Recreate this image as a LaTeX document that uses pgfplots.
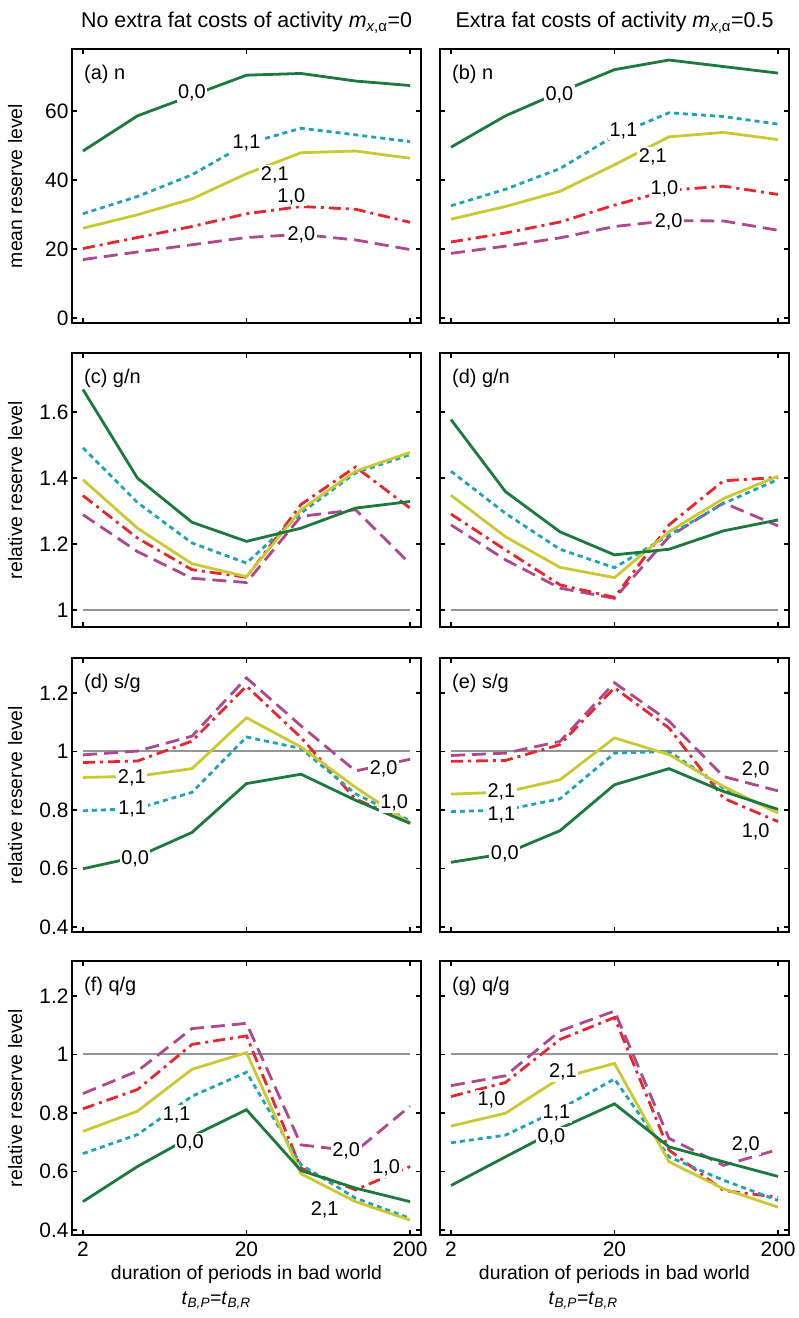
\documentclass[border=0pt]{standalone}
\usepackage{fontspec}
\setmainfont{Liberation Sans}
\usepackage{pgfplots}
\usepackage{pgfplotstable}
\pgfplotsset{compat=1.18}

\definecolor{cG}{RGB}{27,122,60}
\definecolor{cC}{RGB}{31,163,181}
\definecolor{cY}{RGB}{204,200,50}
\definecolor{cR}{RGB}{232,38,46}
\definecolor{cP}{RGB}{176,72,142}
\definecolor{cGray}{RGB}{150,150,150}

\pgfplotstableread{
x g c y r p
2      48.4 30.2 26.0 20.1 16.9
4.309  58.6 35.2 29.9 23.3 19.1
9.283  64.5 41.5 34.5 26.5 21.2
20     70.4 50.5 41.8 30.2 23.3
43.09  70.9 55.0 47.9 32.3 24.2
92.83  68.7 53.1 48.4 31.5 22.6
200    67.4 51.1 46.3 27.7 19.8
}\tabA
\pgfplotstableread{
x g c y r p
2      49.5 32.5 28.6 22.0 18.7
4.309  58.6 37.3 32.3 24.6 20.8
9.283  65.5 43.3 36.7 27.8 23.2
20     72.0 52.8 44.4 32.7 26.5
43.09  74.8 59.5 52.5 37.0 28.2
92.83  72.9 58.4 53.8 38.2 28.1
200    71.0 56.2 51.7 35.8 25.4
}\tabB
\pgfplotstableread{
x g c y r p
2      1.669 1.492 1.395 1.347 1.289
4.309  1.400 1.326 1.248 1.218 1.177
9.283  1.266 1.203 1.140 1.122 1.096
20     1.208 1.142 1.101 1.099 1.083
43.09  1.248 1.294 1.304 1.320 1.284
92.83  1.309 1.416 1.421 1.434 1.304
200    1.329 1.471 1.478 1.309 1.140
}\tabC
\pgfplotstableread{
x g c y r p
2      1.578 1.421 1.348 1.291 1.258
4.309  1.359 1.293 1.222 1.182 1.152
9.283  1.237 1.184 1.129 1.076 1.066
20     1.167 1.128 1.098 1.038 1.035
43.09  1.184 1.227 1.237 1.258 1.222
92.83  1.240 1.323 1.338 1.392 1.325
200    1.273 1.396 1.406 1.402 1.255
}\tabD
\pgfplotstableread{
x g c y r p
2      0.599 0.797 0.911 0.962 0.988
4.309  0.640 0.805 0.915 0.967 1.001
9.283  0.723 0.860 0.941 1.035 1.052
20     0.890 1.049 1.115 1.223 1.251
43.09  0.922 1.010 1.015 1.047 1.087
92.83  0.833 0.855 0.877 0.837 0.933
200    0.754 0.763 0.754 0.757 0.973
}\tabE
\pgfplotstableread{
x g c y r p
2      0.621 0.794 0.854 0.966 0.986
4.309  0.651 0.800 0.861 0.969 0.994
9.283  0.729 0.838 0.903 1.023 1.034
20     0.886 0.994 1.046 1.217 1.234
43.09  0.941 1.000 0.989 1.080 1.103
92.83  0.863 0.874 0.880 0.840 0.914
200    0.802 0.794 0.789 0.760 0.865
}\tabF
\pgfplotstableread{
x g c y r p
2      0.497 0.661 0.737 0.814 0.866
4.309  0.617 0.726 0.806 0.880 0.943
9.283  0.720 0.857 0.949 1.034 1.088
20     0.811 0.939 1.006 1.063 1.106
43.09  0.603 0.623 0.592 0.611 0.691
92.83  0.543 0.509 0.497 0.537 0.669
200    0.497 0.440 0.434 0.617 0.823
}\tabG
\pgfplotstableread{
x g c y r p
2      0.552 0.698 0.755 0.856 0.893
4.309  0.650 0.724 0.799 0.904 0.927
9.283  0.747 0.813 0.919 1.051 1.080
20     0.831 0.916 0.969 1.126 1.148
43.09  0.684 0.650 0.633 0.673 0.713
92.83  0.633 0.570 0.541 0.535 0.621
200    0.583 0.501 0.478 0.512 0.675
}\tabH
\pgfplotstableread{
x y
2 1
200 1
}\tabOne

\newcommand{\fs}{\fontsize{20}{23}\selectfont}
\newcommand{\fst}{\fontsize{21}{24}\selectfont}
\newcommand{\fsl}{\fontsize{19.5}{22}\selectfont}
\newcommand{\fsh}{\fontsize{21.5}{25}\selectfont}
\tikzset{
  sG/.style={cG, line width=2.8bp},
  sC/.style={cC, line width=2.8bp, dash pattern=on 5bp off 4bp},
  sY/.style={cY, line width=2.8bp},
  sR/.style={cR, line width=2.8bp, dash pattern=on 12bp off 5bp on 3bp off 5bp},
  sP/.style={cP, line width=2.8bp, dash pattern=on 14bp off 7bp},
  sGray/.style={cGray, line width=2.2bp},
  lab/.style={fill=white, inner sep=1.5bp, font=\fs},
  plab/.style={anchor=west, font=\fs},
  xl2/.style={anchor=base, font=\fsl, inner sep=0pt},
}
\pgfplotsset{
  scale only axis, width=349bp, height=274bp,
  xmin=1.714, xmax=233.4,
  xtick={2,20,200},
  xminorticks=false, yminorticks=false,
  tick align=inside, major tick length=5bp,
  axis line style={line width=2.2bp},
  every tick/.style={black, line width=1.6bp},
  tick label style={font=\fst},
  xticklabel style={yshift=-3bp},
  /pgf/number format/assume math mode=true,
}
\pgfplotsset{
  every axis y label/.style={font=\fsl, at={(axis description cs:-0.163,0.5)}, rotate=90, anchor=center},
  every axis x label/.style={font=\fsl, at={(axis description cs:0.5,-0.163)}, anchor=base, inner sep=0pt},
  every axis title/.style={font=\fsh, anchor=base, at={(axis description cs:0.5,1)}, yshift=21bp},
  clip mode=individual,
}
\newcommand{\curves}[1]{%
  \addplot[sP] table[x=x,y=p]{#1};
  \addplot[sR] table[x=x,y=r]{#1};
  \addplot[sC] table[x=x,y=c]{#1};
  \addplot[sY] table[x=x,y=y]{#1};
  \addplot[sG] table[x=x,y=g]{#1};
}
\newcommand{\tlab}{\textit{t}\textsubscript{\textit{B,P}}=\textit{t}\textsubscript{\textit{B,R}}}

\begin{document}
\begin{tikzpicture}
\useasboundingbox (0,0) rectangle (799bp,1318bp);

% Row 1
\begin{semilogxaxis}[at={(72bp,995bp)}, anchor=south west,
  ymin=-1.5, ymax=78, ytick={0,20,40,60}, xticklabels={},
  ylabel={mean reserve level},
  title={No extra fat costs of activity \textit{m}\textsubscript{\textit{x},α}=0}]
\curves{\tabA}
\node[lab] at (axis cs:9.28,65.3) {0,0};
\node[lab] at (axis cs:20,50.6) {1,1};
\node[lab] at (axis cs:29.8,41.4) {2,1};
\node[lab] at (axis cs:37.6,35.2) {1,0};
\node[lab] at (axis cs:43.3,24) {2,0};
\node[plab] at (rel axis cs:0.025,0.909) {(a) n};
\end{semilogxaxis}
\begin{semilogxaxis}[at={(440bp,995bp)}, anchor=south west,
  ymin=-1.5, ymax=78, ytick={0,20,40,60}, xticklabels={}, yticklabels={},
  title={Extra fat costs of activity \textit{m}\textsubscript{\textit{x},α}=0.5}]
\curves{\tabB}
\node[lab] at (axis cs:9.2,64.8) {0,0};
\node[lab] at (axis cs:22.7,54.3) {1,1};
\node[lab] at (axis cs:34.3,46.6) {2,1};
\node[lab] at (axis cs:40.4,37.5) {1,0};
\node[lab] at (axis cs:42.9,27.9) {2,0};
\node[plab] at (rel axis cs:0.025,0.909) {(b) n};
\end{semilogxaxis}

% Row 2
\begin{semilogxaxis}[at={(72bp,691bp)}, anchor=south west,
  ymin=0.948, ymax=1.78, ytick={1,1.2,1.4,1.6}, xticklabels={},
  ylabel={relative reserve level}]
\addplot[sGray] table{\tabOne};
\curves{\tabC}
\node[plab] at (rel axis cs:0.025,0.909) {(c) g/n};
\end{semilogxaxis}
\begin{semilogxaxis}[at={(440bp,691bp)}, anchor=south west,
  ymin=0.948, ymax=1.78, ytick={1,1.2,1.4,1.6}, xticklabels={}, yticklabels={}]
\addplot[sGray] table{\tabOne};
\curves{\tabD}
\node[plab] at (rel axis cs:0.025,0.909) {(d) g/n};
\end{semilogxaxis}

% Row 3
\begin{semilogxaxis}[at={(72bp,386bp)}, anchor=south west,
  ymin=0.383, ymax=1.319, ytick={0.4,0.6,0.8,1,1.2}, xticklabels={},
  ylabel={relative reserve level}]
\addplot[sGray] table{\tabOne};
\curves{\tabE}
\node[lab] at (axis cs:3.98,0.911) {2,1};
\node[lab] at (axis cs:4.0,0.803) {1,1};
\node[lab] at (axis cs:4.17,0.633) {0,0};
\node[lab] at (axis cs:138,0.939) {2,0};
\node[lab] at (axis cs:160,0.823) {1,0};
\node[plab] at (rel axis cs:0.025,0.909) {(d) s/g};
\end{semilogxaxis}
\begin{semilogxaxis}[at={(440bp,386bp)}, anchor=south west,
  ymin=0.383, ymax=1.319, ytick={0.4,0.6,0.8,1,1.2}, xticklabels={}, yticklabels={}]
\addplot[sGray] table{\tabOne};
\curves{\tabF}
\node[lab] at (axis cs:146,0.937) {2,0};
\node[lab] at (axis cs:146,0.726) {1,0};
\node[lab] at (axis cs:4.07,0.863) {2,1};
\node[lab] at (axis cs:4.07,0.783) {1,1};
\node[lab] at (axis cs:4.27,0.651) {0,0};
\node[plab] at (rel axis cs:0.025,0.909) {(e) s/g};
\end{semilogxaxis}

% Row 4
\begin{semilogxaxis}[at={(72bp,83bp)}, anchor=south west,
  ymin=0.383, ymax=1.319, ytick={0.4,0.6,0.8,1,1.2}, xticklabels={2,20,200},
  ylabel={relative reserve level}, xlabel={duration of periods in bad world}]
\addplot[sGray] table{\tabOne};
\curves{\tabG}
\node[lab] at (axis cs:7.48,0.794) {1,1};
\node[lab] at (axis cs:9.02,0.699) {0,0};
\node[lab] at (axis cs:81.4,0.669) {2,0};
\node[lab] at (axis cs:143,0.611) {1,0};
\node[lab] at (axis cs:60.1,0.469) {2,1};
\node[plab] at (rel axis cs:0.025,0.909) {(f) q/g};
\node[xl2] at (rel axis cs:0.413,-0.252) {\tlab};
\end{semilogxaxis}
\begin{semilogxaxis}[at={(440bp,83bp)}, anchor=south west,
  ymin=0.383, ymax=1.319, ytick={0.4,0.6,0.8,1,1.2}, xticklabels={2,20,200}, yticklabels={},
  xlabel={duration of periods in bad world}]
\addplot[sGray] table{\tabOne};
\curves{\tabH}
\node[lab] at (axis cs:9.68,0.939) {2,1};
\node[lab] at (axis cs:3.54,0.845) {1,0};
\node[lab] at (axis cs:8.82,0.799) {1,1};
\node[lab] at (axis cs:8.22,0.719) {0,0};
\node[lab] at (axis cs:127,0.69) {2,0};
\node[plab] at (rel axis cs:0.025,0.909) {(g) q/g};
\node[xl2] at (rel axis cs:0.41,-0.252) {\tlab};
\end{semilogxaxis}
\end{tikzpicture}
\end{document}
